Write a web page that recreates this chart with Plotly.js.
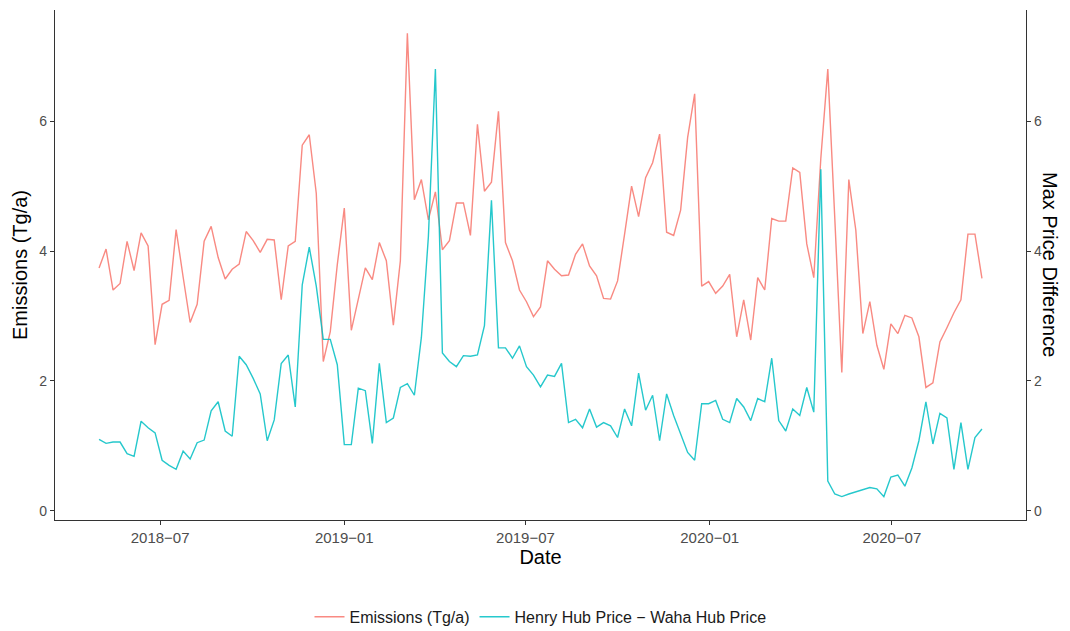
<!DOCTYPE html>
<html>
<head>
<meta charset="utf-8">
<script src="https://cdn.plot.ly/plotly-3.0.1.min.js"></script>
<style>
  html, body { margin: 0; padding: 0; background: #ffffff; }
  #chart { width: 1070px; height: 631px; }
</style>
</head>
<body>
<div id="chart"></div>
<script>
// Weekly observation dates
const dates = [
  '2018-05-01','2018-05-08','2018-05-15','2018-05-22','2018-05-29','2018-06-05','2018-06-12','2018-06-19','2018-06-26',
  '2018-07-03','2018-07-10','2018-07-17','2018-07-24','2018-07-31','2018-08-07','2018-08-14','2018-08-21','2018-08-28',
  '2018-09-04','2018-09-11','2018-09-18','2018-09-25','2018-10-02','2018-10-09','2018-10-16','2018-10-23','2018-10-30',
  '2018-11-06','2018-11-13','2018-11-20','2018-11-27','2018-12-04','2018-12-11','2018-12-18','2018-12-25',
  '2019-01-01','2019-01-08','2019-01-15','2019-01-22','2019-01-29','2019-02-05','2019-02-12','2019-02-19','2019-02-26',
  '2019-03-05','2019-03-12','2019-03-19','2019-03-26','2019-04-02','2019-04-09','2019-04-16','2019-04-23','2019-04-30',
  '2019-05-07','2019-05-14','2019-05-21','2019-05-28','2019-06-04','2019-06-11','2019-06-18','2019-06-25',
  '2019-07-02','2019-07-09','2019-07-16','2019-07-23','2019-07-30','2019-08-06','2019-08-13','2019-08-20','2019-08-27',
  '2019-09-03','2019-09-10','2019-09-17','2019-09-24','2019-10-01','2019-10-08','2019-10-15','2019-10-22','2019-10-29',
  '2019-11-05','2019-11-12','2019-11-19','2019-11-26','2019-12-03','2019-12-10','2019-12-17','2019-12-24','2019-12-31',
  '2020-01-07','2020-01-14','2020-01-21','2020-01-28','2020-02-04','2020-02-11','2020-02-18','2020-02-25',
  '2020-03-03','2020-03-10','2020-03-17','2020-03-24','2020-03-31','2020-04-07','2020-04-14','2020-04-21','2020-04-28',
  '2020-05-05','2020-05-12','2020-05-19','2020-05-26','2020-06-02','2020-06-09','2020-06-16','2020-06-23','2020-06-30',
  '2020-07-07','2020-07-14','2020-07-21','2020-07-28','2020-08-04','2020-08-11','2020-08-18','2020-08-25',
  '2020-09-01','2020-09-08','2020-09-15','2020-09-22','2020-09-29'
];

// Emissions (Tg/a)
const emissions = [
  3.74, 4.03, 3.40, 3.50, 4.15, 3.70, 4.28, 4.08, 2.56,
  3.18, 3.24, 4.33, 3.60, 2.90, 3.18, 4.15, 4.38, 3.90,
  3.57, 3.72, 3.80, 4.30, 4.16, 3.98, 4.18, 4.17, 3.25,
  4.08, 4.15, 5.63, 5.79, 4.89, 2.30, 2.76, 3.79,
  4.66, 2.78, 3.27, 3.74, 3.56, 4.13, 3.85, 2.86, 3.85,
  7.35, 4.79, 5.10, 4.48, 4.91, 4.02, 4.16, 4.74, 4.74,
  4.24, 5.95, 4.92, 5.06, 6.15, 4.13, 3.85, 3.40,
  3.22, 2.99, 3.14, 3.85, 3.72, 3.62, 3.63, 3.95, 4.11,
  3.77, 3.62, 3.27, 3.26, 3.54, 4.26, 5.00, 4.53, 5.13,
  5.36, 5.80, 4.29, 4.24, 4.63, 5.75, 6.42, 3.46, 3.53,
  3.35, 3.46, 3.64, 2.68, 3.25, 2.63, 3.59, 3.40,
  4.50, 4.46, 4.46, 5.28, 5.21, 4.11, 3.59, 5.42, 6.80,
  4.50, 2.13, 5.10, 4.32, 2.73, 3.22, 2.55, 2.18, 2.88,
  2.73, 3.01, 2.97, 2.68, 1.90, 1.97, 2.60, 2.82,
  3.05, 3.25, 4.26, 4.26, 3.58
];

// Henry Hub Price - Waha Hub Price (Max Price Difference)
const priceDiff = [
  1.10, 1.04, 1.06, 1.06, 0.88, 0.84, 1.38, 1.28, 1.20,
  0.78, 0.70, 0.64, 0.92, 0.80, 1.05, 1.09, 1.54, 1.68,
  1.23, 1.15, 2.38, 2.25, 2.04, 1.80, 1.08, 1.40, 2.27,
  2.40, 1.60, 3.48, 4.06, 3.46, 2.64, 2.64, 2.25,
  1.02, 1.02, 1.89, 1.85, 1.04, 2.27, 1.36, 1.43, 1.90,
  1.96, 1.78, 2.67, 4.22, 6.80, 2.43, 2.30, 2.22, 2.39,
  2.38, 2.40, 2.85, 4.78, 2.51, 2.51, 2.35, 2.54,
  2.22, 2.09, 1.91, 2.09, 2.07, 2.27, 1.36, 1.41, 1.28,
  1.57, 1.29, 1.36, 1.31, 1.13, 1.57, 1.31, 2.12, 1.55,
  1.78, 1.08, 1.80, 1.47, 1.17, 0.90, 0.78, 1.65, 1.65,
  1.70, 1.41, 1.36, 1.73, 1.60, 1.39, 1.73, 1.68,
  2.35, 1.39, 1.23, 1.57, 1.47, 1.90, 1.52, 5.26, 0.46,
  0.26, 0.22, 0.26, 0.29, 0.33, 0.36, 0.34, 0.22, 0.52,
  0.55, 0.38, 0.66, 1.08, 1.68, 1.03, 1.50, 1.43,
  0.64, 1.36, 0.64, 1.13, 1.26
];

const xTickVals = ['2018-07-01','2019-01-01','2019-07-01','2020-01-01','2020-07-01'];
const xTickText = ['2018\u221207','2019\u221201','2019\u221207','2020\u221201','2020\u221207'];
const yTickVals = [0, 2, 4, 6];

const FONT = 'Liberation Sans, Arial, Helvetica, sans-serif';
const axisCommon = {
  showline: true, linecolor: '#333333', linewidth: 1.2,
  ticks: 'outside', ticklen: 4, tickwidth: 1, tickcolor: '#333333',
  showgrid: false, zeroline: false,
  tickfont: {family: FONT, size: 14, color: '#4D4D4D'}
};
const yRange = [-0.14, 7.71];

const traces = [
  {
    x: dates, y: emissions, type: 'scatter', mode: 'lines',
    name: 'Emissions (Tg/a)',
    opacity: 0.85,
    line: {color: '#F8766D', width: 1.4}
  },
  {
    x: dates, y: priceDiff, type: 'scatter', mode: 'lines',
    name: 'Henry Hub Price \u2212 Waha Hub Price',
    yaxis: 'y2',
    opacity: 0.85,
    line: {color: '#00BFC4', width: 1.4}
  }
];

const layout = {
  width: 1070, height: 631,
  margin: {l: 55, r: 44, t: 10, b: 111, autoexpand: false},
  paper_bgcolor: '#ffffff', plot_bgcolor: '#ffffff',
  font: {family: FONT, color: '#000000'},
  showlegend: true,
  legend: {
    orientation: 'h', x: 0.5, xanchor: 'center', y: -0.19, yanchor: 'middle',
    font: {family: FONT, size: 16, color: '#1a1a1a'},
    itemwidth: 30
  },
  xaxis: Object.assign({}, axisCommon, {
    type: 'date',
    range: ['2018-03-18', '2020-11-12'],
    tickmode: 'array', tickvals: xTickVals, ticktext: xTickText,
    tickfont: {family: FONT, size: 15, color: '#4D4D4D'},
    title: {text: 'Date', font: {family: FONT, size: 20, color: '#000000'}, standoff: 4}
  }),
  yaxis: Object.assign({}, axisCommon, {
    range: yRange, tickmode: 'array', tickvals: yTickVals,
    title: {text: 'Emissions (Tg/a)', font: {family: FONT, size: 20, color: '#000000'}, standoff: 6}
  }),
  yaxis2: Object.assign({}, axisCommon, {
    range: yRange, tickmode: 'array', tickvals: yTickVals,
    overlaying: 'y', side: 'right'
  }),
  annotations: [{
    text: 'Max Price Difference', xref: 'paper', yref: 'paper',
    x: 1.0247, y: 0.5, xanchor: 'center', yanchor: 'middle',
    textangle: 90, showarrow: false,
    font: {family: FONT, size: 20, color: '#000000'}
  }]
};

Plotly.newPlot('chart', traces, layout, {displayModeBar: false, responsive: false});
</script>
</body>
</html>
